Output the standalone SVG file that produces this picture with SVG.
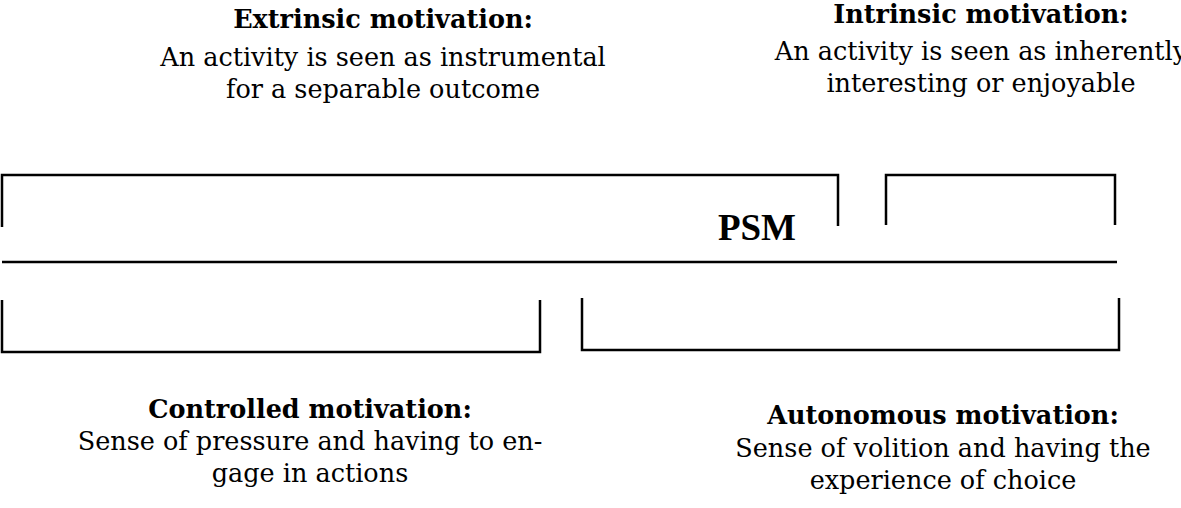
<svg xmlns="http://www.w3.org/2000/svg" width="1181" height="508" viewBox="0 0 1181 508">
<style>
.t{font-family:"DejaVu Serif","Liberation Serif",serif;font-size:25.5px;fill:#000;text-anchor:middle}
.b{font-weight:bold}
.psm{font-family:"Liberation Serif",serif;font-size:37px;font-weight:bold;fill:#000;text-anchor:middle}
.ln{fill:none;stroke:#000;stroke-width:2.5}
</style>
<rect width="1181" height="508" fill="#fff"/>
<g id="extrinsic">
<text class="t b" x="383" y="28">Extrinsic motivation:</text>
<text class="t" x="383" y="66">An activity is seen as instrumental</text>
<text class="t" x="383" y="98">for a separable outcome</text>
</g>
<g id="intrinsic">
<text class="t b" x="981" y="23">Intrinsic motivation:</text>
<text class="t" x="981" y="60">An activity is seen as inherently</text>
<text class="t" x="981" y="92">interesting or enjoyable</text>
</g>
<g id="psm">
<text class="psm" x="757" y="240">PSM</text>
</g>
<g id="controlled">
<text class="t b" x="310" y="418">Controlled motivation:</text>
<text class="t" x="310" y="450">Sense of pressure and having to en-</text>
<text class="t" x="310" y="482">gage in actions</text>
</g>
<g id="autonomous">
<text class="t b" x="943" y="424">Autonomous motivation:</text>
<text class="t" x="943" y="457">Sense of volition and having the</text>
<text class="t" x="943" y="489">experience of choice</text>
</g>
<g id="connectors">
<path class="ln" d="M2,227 V175 H838 V226"/>
<path class="ln" d="M886,225 V175 H1115 V225"/>
<path class="ln" d="M2,262 H1117"/>
<path class="ln" d="M2,300 V352 H540 V300"/>
<path class="ln" d="M582,298 V350 H1119 V298"/>
</g>
</svg>
